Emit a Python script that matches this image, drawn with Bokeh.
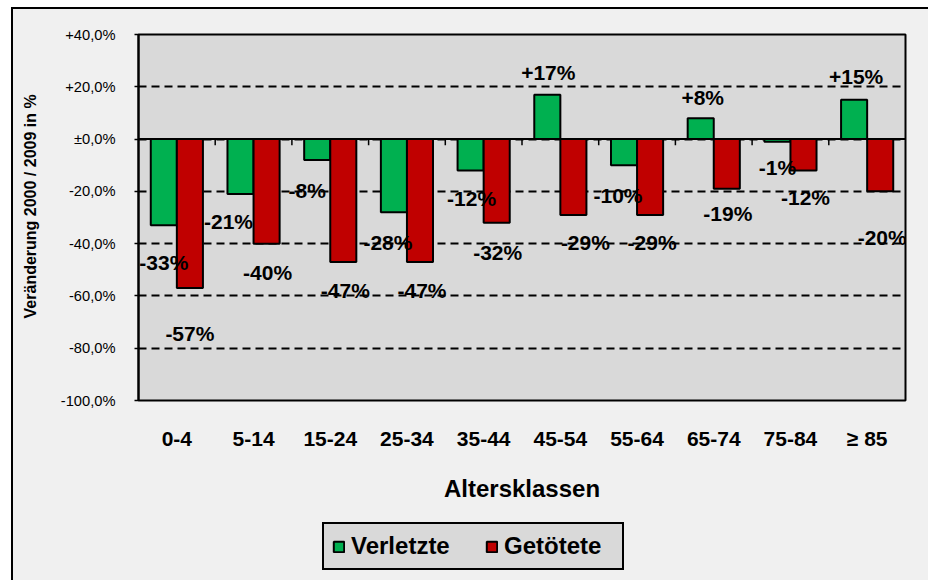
from bokeh.plotting import figure
from bokeh.layouts import column
from bokeh.models import (FactorRange, Range1d, FixedTicker, Legend, LegendItem,
                          ColumnDataSource, Span)
from bokeh.transform import dodge
from bokeh.core.properties import value
from bokeh.embed import file_html
from bokeh.resources import INLINE

# ---- data ----
categories = ["0-4", "5-14", "15-24", "25-34", "35-44", "45-54", "55-64", "65-74", "75-84", "≥ 85"]
verletzte = [-33, -21, -8, -28, -12, 17, -10, 8, -1, 15]
getoetete = [-57, -40, -47, -47, -32, -29, -29, -19, -12, -20]
y_ticks = [-100, -80, -60, -40, -20, 0, 20, 40]
y_tick_labels = ["-100,0%", "-80,0%", "-60,0%", "-40,0%", "-20,0%", "±0,0%", "+20,0%", "+40,0%"]
series_names = ["Verletzte", "Getötete"]

# data-label pixel offsets (layout only)
v_dx = [0, -12, -10, -6, 1, 1, -6, 2, 0, 2]
v_dy = [37, 28, 31, 30, 28, -22, 30, -21, 26, -23]
g_dx = [0, 1, 2, 2, 1, 12, 2, 1, 2, 2]
g_dy = [45, 29, 29, 29, 30, 28, 28, 25, 27, 46]

FONT = "Liberation Sans"
GREEN = "#00b050"
RED = "#c00000"
PLOT_BG = "#d9d9d9"
CHART_BG = "#f0f0f0"

def fmt(v):
    return f"{v:+d}%"

src = ColumnDataSource(dict(
    cat=categories, v=verletzte, g=getoetete,
    vlab=[fmt(x) for x in verletzte], glab=[fmt(x) for x in getoetete],
    vdx=v_dx, vdy=v_dy, gdx=g_dx, gdy=g_dy,
))

p = figure(x_range=FactorRange(*categories), y_range=Range1d(-100, 40),
           width=915, height=501, output_backend="svg", toolbar_location=None,
           min_border_left=125, min_border_top=25, min_border_right=23,
           min_border_bottom=110)
p.background_fill_color = PLOT_BG
p.border_fill_color = CHART_BG
p.outline_line_color = "black"
p.outline_line_width = 2

p.xgrid.visible = False
p.ygrid.ticker = FixedTicker(ticks=y_ticks)
p.ygrid.grid_line_color = "black"
p.ygrid.grid_line_dash = "8 5"
p.ygrid.grid_line_width = 2

bw = 0.34
p.vbar(x=dodge("cat", -bw / 2, range=p.x_range), top="v", bottom=0, width=bw,
       source=src, fill_color=GREEN, line_color="black", line_width=2)
p.vbar(x=dodge("cat", bw / 2, range=p.x_range), top="g", bottom=0, width=bw,
       source=src, fill_color=RED, line_color="black", line_width=2)

p.add_layout(Span(location=0, dimension="width", line_color="black", line_width=2))
bounds = list(range(1, len(categories)))
p.segment(x0=bounds, y0=[0] * len(bounds), x1=bounds, y1=[-2.4] * len(bounds),
          line_color="black", line_width=1.5)

p.text(x=dodge("cat", -bw / 2, range=p.x_range), y="v", text="vlab", source=src,
       x_offset="vdx", y_offset="vdy", text_font=value(FONT), text_font_style="bold",
       text_font_size="21px", text_align="center", text_baseline="middle", text_color="black")
p.text(x=dodge("cat", bw / 2, range=p.x_range), y="g", text="glab", source=src,
       x_offset="gdx", y_offset="gdy", text_font=value(FONT), text_font_style="bold",
       text_font_size="21px", text_align="center", text_baseline="middle", text_color="black")

# y axis
ya = p.yaxis[0]
ya.ticker = FixedTicker(ticks=y_ticks)
ya.major_label_overrides = dict(zip(y_ticks, y_tick_labels))
ya.major_label_text_font = FONT
ya.major_label_text_font_size = "14.7px"
ya.major_label_text_color = "black"
ya.major_tick_out = 4
ya.major_tick_in = 0
ya.major_tick_line_width = 1.5
ya.minor_tick_line_color = None
ya.axis_line_width = 2
ya.major_label_standoff = 19
ya.axis_label = "\u00a0" * 5 + "Veränderung 2000 / 2009 in %"
ya.axis_label_text_font = FONT
ya.axis_label_text_font_style = "bold"
ya.axis_label_text_font_size = "16px"
ya.axis_label_text_color = "black"
ya.axis_label_standoff = 19

# x axis
xa = p.xaxis[0]
xa.axis_line_color = None
xa.major_tick_line_color = None
xa.minor_tick_line_color = None
xa.major_label_text_font = FONT
xa.major_label_text_font_style = "bold"
xa.major_label_text_font_size = "21px"
xa.major_label_text_color = "black"
xa.major_label_standoff = 20
xa.axis_label = "Altersklassen"
xa.axis_label_text_font = FONT
xa.axis_label_text_font_style = "bold"
xa.axis_label_text_font_size = "24px"
xa.axis_label_text_color = "black"
xa.axis_label_standoff = 22

# legend strip below the chart
lf = figure(width=915, height=70, output_backend="svg", toolbar_location=None,
            x_axis_type=None, y_axis_type=None, min_border=0,
            x_range=Range1d(0, 1), y_range=Range1d(0, 1))
lf.background_fill_color = CHART_BG
lf.border_fill_color = CHART_BG
lf.outline_line_color = None
lf.grid.visible = False
# legend proxies: tiny swatches hidden underneath the legend box
lv = lf.vbar(x=[0.45], bottom=[0.45], top=[0.5], width=0.01,
             fill_color=GREEN, line_color="black", line_width=2)
lg = lf.vbar(x=[0.45], bottom=[0.45], top=[0.5], width=0.01,
             fill_color=RED, line_color="black", line_width=2)

legend = Legend(items=[LegendItem(label=series_names[0], renderers=[lv]),
                       LegendItem(label=series_names[1], renderers=[lg])],
                orientation="horizontal", location=(184, 10),
                padding=8, spacing=24, label_standoff=6, label_width=110,
                glyph_width=13, glyph_height=13,
                label_text_font=FONT, label_text_font_style="bold",
                label_text_font_size="24px", label_text_color="black",
                border_line_color="black", border_line_width=2, border_line_alpha=1,
                background_fill_color=PLOT_BG, background_fill_alpha=1,
                margin=0)
lf.add_layout(legend)

layout = column(p, lf, spacing=0, margin=(7, 0, 0, 11))
layout.styles = {"border-left": "2px solid #000", "border-top": "2px solid #000",
                 "background-color": CHART_BG}

open("out.html", "w").write(file_html(layout, INLINE))
